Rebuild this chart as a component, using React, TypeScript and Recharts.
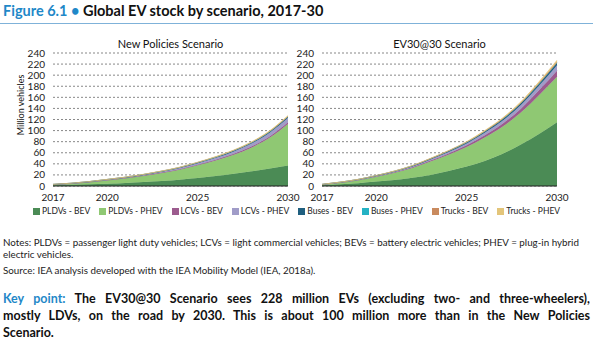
import { Area, AreaChart, CartesianGrid, XAxis, YAxis } from 'recharts';

const years = [2017, 2018, 2019, 2020, 2021, 2022, 2023, 2024, 2025, 2026, 2027, 2028, 2029, 2030];
const xTicks = [2017, 2020, 2025, 2030];
const yTicks = [0, 20, 40, 60, 80, 100, 120, 140, 160, 180, 200, 220, 240];

const seriesNames = ['PLDVs - BEV', 'PLDVs - PHEV', 'LCVs - BEV', 'LCVs - PHEV', 'Buses - BEV', 'Buses - PHEV', 'Trucks - BEV', 'Trucks - PHEV'];
const seriesColors = ['#4b8b55', '#8fc873', '#9c5b8e', '#a09cc8', '#1f5f7f', '#25b2c4', '#c98a5e', '#e3c57a'];

// New Policies Scenario, million vehicles
const npsPldvBev = [1.5, 2.2, 3, 4, 5.5, 7, 9, 11.5, 14.5, 18, 22, 26.5, 31.5, 37];
const npsPldvPhev = [0.9, 2, 3.9, 6.4, 8.4, 11.3, 14.5, 18, 22.9, 28.1, 34.4, 43, 55.8, 74.8];
const npsLcvBev = [0.05, 0.1, 0.15, 0.25, 0.35, 0.5, 0.65, 0.85, 1.1, 1.4, 1.8, 2.2, 2.7, 3.2];
const npsLcvPhev = [0.1, 0.2, 0.35, 0.55, 0.8, 1.1, 1.5, 2, 2.6, 3.3, 4.2, 5.3, 6.6, 8.2];
const npsBusBev = [0.4, 0.45, 0.5, 0.6, 0.7, 0.8, 0.9, 1, 1.15, 1.3, 1.45, 1.6, 1.8, 2];
const npsBusPhev = [0.02, 0.03, 0.04, 0.05, 0.06, 0.07, 0.08, 0.1, 0.11, 0.13, 0.15, 0.17, 0.19, 0.2];
const npsTruckBev = [0.01, 0.02, 0.03, 0.04, 0.06, 0.08, 0.1, 0.13, 0.16, 0.2, 0.24, 0.29, 0.34, 0.4];
const npsTruckPhev = [0.02, 0.04, 0.07, 0.1, 0.15, 0.2, 0.28, 0.37, 0.48, 0.6, 0.75, 0.9, 1.05, 1.2];

// EV30@30 Scenario, million vehicles
const evPldvBev = [1.5, 3, 5, 8, 11, 15, 20, 27, 35, 45, 58, 75, 94, 115];
const evPldvPhev = [0.9, 3, 5.5, 8.8, 12.9, 17.7, 24.3, 29.4, 35.2, 42.6, 49.5, 57.7, 69.8, 82];
const evLcvBev = [0.05, 0.15, 0.3, 0.5, 0.8, 1.2, 1.7, 2.4, 3.2, 4.2, 5.4, 6.9, 8.8, 11];
const evLcvPhev = [0.1, 0.25, 0.45, 0.7, 1, 1.4, 1.9, 2.6, 3.4, 4.3, 5.3, 6.5, 8.1, 10];
const evBusBev = [0.4, 0.5, 0.6, 0.75, 0.9, 1.1, 1.3, 1.6, 1.9, 2.2, 2.6, 3, 3.5, 4];
const evBusPhev = [0.02, 0.03, 0.04, 0.05, 0.07, 0.09, 0.11, 0.14, 0.18, 0.22, 0.27, 0.33, 0.4, 0.5];
const evTruckBev = [0.01, 0.02, 0.04, 0.06, 0.09, 0.13, 0.18, 0.25, 0.33, 0.45, 0.6, 0.8, 1.1, 1.5];
const evTruckPhev = [0.02, 0.05, 0.1, 0.16, 0.24, 0.34, 0.47, 0.63, 0.83, 1.07, 1.36, 1.75, 2.3, 3];

const buildRows = (cols: number[][]) =>
  years.map((year, i) => {
    const row: Record<string, number> = { year };
    cols.forEach((c, j) => (row['s' + j] = c[i]));
    return row;
  });

const npsData = buildRows([npsPldvBev, npsPldvPhev, npsLcvBev, npsLcvPhev, npsBusBev, npsBusPhev, npsTruckBev, npsTruckPhev]);
const evData = buildRows([evPldvBev, evPldvPhev, evLcvBev, evLcvPhev, evBusBev, evBusPhev, evTruckBev, evTruckPhev]);

const font = 'Lato, "Open Sans", sans-serif';
const tickStyle = { fontSize: 10, fill: '#222', fontFamily: font };

const ScenarioChart = ({ data, yWidth, marginRight }: { data: any[]; yWidth: number; marginRight: number }) => (
  <AreaChart width={300} height={180} data={data} margin={{ top: 23, right: marginRight, bottom: 4, left: 0 }}>
    <CartesianGrid vertical={false} stroke="#555" strokeDasharray="2 2" strokeWidth={0.7} />
    <XAxis
      dataKey="year"
      type="number"
      domain={[2017, 2030]}
      ticks={xTicks}
      interval={0}
      height={20}
      tickLine={false}
      axisLine={{ stroke: '#222', strokeWidth: 1.2 }}
      tick={tickStyle}
    />
    <YAxis width={yWidth} domain={[0, 240]} ticks={yTicks} interval={0} axisLine={false} tickLine={false} tick={tickStyle} />
    {seriesNames.map((name, j) => (
      <Area
        key={name}
        name={name}
        type="monotone"
        dataKey={'s' + j}
        stackId="a"
        fill={seriesColors[j]}
        fillOpacity={1}
        stroke={seriesColors[j]}
        strokeWidth={0.6}
        isAnimationActive={false}
      />
    ))}
  </AreaChart>
);

const App = () => (
  <div style={{ position: 'absolute', left: 0, top: 0, width: 593, height: 350, background: '#fff', fontFamily: font, color: '#111', overflow: 'hidden' }}>
    <div style={{ position: 'absolute', left: 3, top: 2, fontSize: 14.5, fontWeight: 700, whiteSpace: 'nowrap' }}>
      <span style={{ color: '#1f88c8' }}>Figure 6.1 • </span>Global EV stock by scenario, 2017-30
    </div>
    <div style={{ position: 'absolute', left: 0, top: 23, width: 593, height: 1, background: '#7fb2d9' }} />

    <div style={{ position: 'absolute', left: 53, width: 235, top: 37, textAlign: 'center', fontSize: 11 }}>New Policies Scenario</div>
    <div style={{ position: 'absolute', left: 322, width: 235, top: 37, textAlign: 'center', fontSize: 11 }}>EV30@30 Scenario</div>
    <div style={{ position: 'absolute', left: 20, top: 105, transform: 'translate(-50%, -50%) rotate(-90deg)', fontSize: 9, whiteSpace: 'nowrap' }}>Million vehicles</div>

    <div style={{ position: 'absolute', left: 0, top: 30 }}>
      <ScenarioChart data={npsData} yWidth={53} marginRight={12} />
    </div>
    <div style={{ position: 'absolute', left: 290, top: 30 }}>
      <ScenarioChart data={evData} yWidth={32} marginRight={33} />
    </div>

    <div style={{ position: 'absolute', left: 0, top: 206, width: 593, display: 'flex', justifyContent: 'center', gap: 9, fontSize: 8.5, color: '#222', whiteSpace: 'nowrap' }}>
      {seriesNames.map((name, j) => (
        <div key={name} style={{ display: 'flex', alignItems: 'center', flexShrink: 0 }}>
          <span style={{ width: 7, height: 7, background: seriesColors[j], marginRight: 2, flexShrink: 0 }} />
          {name}
        </div>
      ))}
    </div>

    <div style={{ position: 'absolute', left: 3, top: 236, width: 588, fontSize: 9.8, lineHeight: '12px', color: '#222' }}>
      <div style={{ whiteSpace: 'nowrap' }}>
        Notes: PLDVs = passenger light duty vehicles; LCVs = light commercial vehicles; BEVs = battery electric vehicles; PHEV = plug-in hybrid
      </div>
      <div>electric vehicles.</div>
      <div style={{ marginTop: 4 }}>Source: IEA analysis developed with the IEA Mobility Model (IEA, 2018a).</div>
    </div>

    <div style={{ position: 'absolute', left: 3, top: 290, width: 587, fontSize: 12.5, fontWeight: 700, lineHeight: '17px', color: '#111' }}>
      <div style={{ textAlign: 'justify', textAlignLast: 'justify' }}>
        <span style={{ color: '#1f88c8' }}>Key point:</span> The EV30@30 Scenario sees 228 million EVs (excluding two- and three-wheelers),
      </div>
      <div style={{ textAlign: 'justify', textAlignLast: 'justify' }}>
        mostly LDVs, on the road by 2030. This is about 100 million more than in the New Policies
      </div>
      <div>Scenario.</div>
    </div>
  </div>
);

export default App;
